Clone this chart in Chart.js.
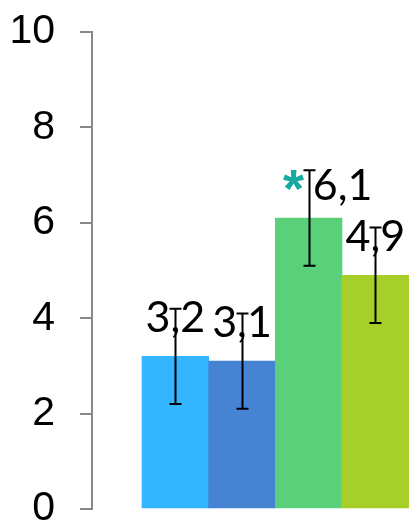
<!DOCTYPE html>
<html>
<head>
<meta charset="utf-8">
<script src="https://cdn.jsdelivr.net/npm/chart.js@4/dist/chart.umd.min.js"></script>
<style>
  html, body { margin: 0; padding: 0; background: #ffffff; }
  canvas { display: block; }
</style>
</head>
<body>
<canvas id="chart" width="412" height="522"></canvas>
<script>
// Group means, ±error and significance flags
const positions   = [1, 2, 3, 4];
const values      = [3.2, 3.1, 6.1, 4.9];
const errors      = [1.0, 1.0, 1.0, 1.0];
const significant = [false, false, true, false];
const yTickValues = [0, 2, 4, 6, 8, 10];

const barColors = ['#33b5ff', '#4684d3', '#5bd07a', '#a6cf2a'];

// Value labels ("3,2"), drawn above each bar before the error bars
const valueLabels = {
  id: 'valueLabels',
  afterDatasetsDraw(chart, args, opts) {
    const { ctx } = chart;
    const meta = chart.getDatasetMeta(0);
    ctx.save();
    ctx.font = opts.font;
    ctx.fillStyle = '#000';
    ctx.textAlign = 'center';
    ctx.textBaseline = 'alphabetic';
    meta.data.forEach((bar, i) => {
      const shift = opts.shift[i] || [0, 0];
      const text = String(values[i]).replace('.', ',');
      ctx.fillText(text, bar.x + shift[0], bar.y - opts.gap + shift[1]);
    });
    ctx.restore();
  }
};

// Error bars with caps plus the significance asterisk
const errorBars = {
  id: 'errorBars',
  afterDraw(chart, args, opts) {
    const { ctx } = chart;
    const y = chart.scales.y;
    const meta = chart.getDatasetMeta(0);
    ctx.save();
    ctx.strokeStyle = '#000';
    ctx.lineWidth = 2;
    meta.data.forEach((bar, i) => {
      const top = y.getPixelForValue(values[i] + errors[i]);
      const bot = y.getPixelForValue(values[i] - errors[i]);
      const x = Math.round(bar.x) + 0.5;
      ctx.beginPath();
      ctx.moveTo(x, top); ctx.lineTo(x, bot);
      ctx.moveTo(x - opts.cap, top); ctx.lineTo(x + opts.cap, top);
      ctx.moveTo(x - opts.cap, bot); ctx.lineTo(x + opts.cap, bot);
      ctx.stroke();
      if (significant[i]) {
        ctx.font = opts.starFont;
        ctx.fillStyle = opts.starColor;
        const m = ctx.measureText('*');
        const w = m.actualBoundingBoxLeft + m.actualBoundingBoxRight;
        const h = m.actualBoundingBoxAscent + m.actualBoundingBoxDescent;
        const cx = x - 16, cy = top + 10;
        ctx.textAlign = 'left';
        ctx.textBaseline = 'alphabetic';
        ctx.fillText('*', cx - w / 2 + m.actualBoundingBoxLeft, cy - h / 2 + m.actualBoundingBoxAscent);
      }
    });
    ctx.restore();
  }
};

new Chart(document.getElementById('chart'), {
  type: 'bar',
  data: {
    datasets: [{
      data: positions.map((p, i) => ({ x: p, y: values[i] })),
      backgroundColor: barColors,
      borderWidth: 0,
      barPercentage: 1,
      categoryPercentage: 1
    }]
  },
  options: {
    responsive: false,
    animation: false,
    devicePixelRatio: 1,
    layout: { padding: { top: 32, bottom: 13, left: 0, right: 0 } },
    plugins: {
      legend: { display: false },
      tooltip: { enabled: false },
      valueLabels: {
        font: '43px Lato',
        gap: 24,
        shift: [[0, 0], [0, 0], [34, 6], [0, 0]]
      },
      errorBars: {
        cap: 6,
        starFont: 'bold 54px "Liberation Sans"',
        starColor: '#17aaa0'
      }
    },
    scales: {
      x: {
        type: 'linear',
        display: false,
        offset: false,
        grid: { offset: false },
        min: -0.25,
        max: 4.55,
        ticks: { stepSize: 1, includeBounds: false }
      },
      y: {
        min: 0,
        max: 10,
        afterFit(scale) {
          scale.width = 92;
          scale.paddingTop = 0;
          scale.paddingBottom = 0;
        },
        afterBuildTicks(scale) { scale.ticks = yTickValues.map(v => ({ value: v })); },
        grid: {
          drawOnChartArea: false,
          drawTicks: true,
          tickLength: 12,
          color: '#888888',
          lineWidth: 2
        },
        border: { display: true, color: '#888888', width: 2 },
        ticks: {
          padding: 25,
          color: '#000',
          font: { family: '"Liberation Sans", Arial', size: 41 }
        }
      }
    }
  },
  plugins: [valueLabels, errorBars]
});
</script>
</body>
</html>
